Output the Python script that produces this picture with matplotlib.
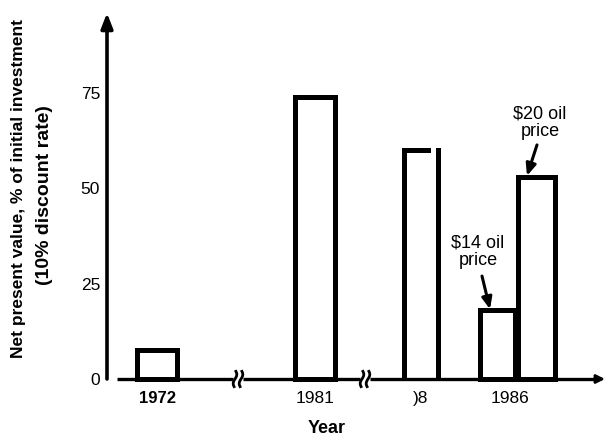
import numpy as np
import matplotlib
matplotlib.use("Agg")
import matplotlib.pyplot as plt

plt.rcParams["font.family"] = ["Liberation Sans", "DejaVu Sans"]

# data
YEAR_LABELS = ["1972", "1981", ")8", "1986"]
NPV = [7.5, 74, 60, 18, 53]          # % of initial investment
OIL_LABELS = ["$14 oil\nprice", "$20 oil\nprice"]

# layout (x in units of 10 px from the y axis)
BAR_X = [5.0, 20.8, 31.4, 39.05, 42.95]
BAR_W = [4.0, 4.0, 3.4, 3.5, 3.7]
LABEL_X = [5.0, 20.8, 31.4, 40.3]
BREAKS_X = [13.0, 25.7]
XMAX = 49.8
YMAX = 96

fig = plt.figure(figsize=(6.06, 4.36), dpi=100)
ax = fig.add_axes([107 / 606, 57 / 436, 498 / 606, 366 / 436])
ax.set_xlim(0, XMAX)
ax.set_ylim(0, YMAX)
for s in ax.spines.values():
    s.set_visible(False)
ax.set_xticks([])
ax.set_yticks([0, 25, 50, 75])
ax.tick_params(axis="y", length=0, pad=5, labelsize=12.5)
ax.patch.set_alpha(0)

# bars (white with heavy outline); the ")8" bar has a broken top
lw = 3.6
for i, (x, w, h) in enumerate(zip(BAR_X, BAR_W, NPV)):
    if i == 2:
        ax.bar(x, h, width=w, facecolor="white", edgecolor="none", zorder=3)
        ax.plot([x - w / 2, x - w / 2, x + w / 2 - 1.0], [0, h, h],
                color="black", lw=lw, zorder=4, solid_joinstyle="miter")
        ax.plot([x + w / 2, x + w / 2], [0, h], color="black", lw=lw, zorder=4)
    else:
        ax.bar(x, h, width=w, bottom=0, facecolor="white",
               edgecolor="black", linewidth=lw, zorder=3, clip_on=False)

# y axis with arrow
ax.annotate("", xy=(0, YMAX), xytext=(0, 0), xycoords="data",
            arrowprops=dict(arrowstyle="-|>,head_width=0.35,head_length=0.9",
                            color="black", lw=2.6, shrinkA=0, shrinkB=0),
            annotation_clip=False)

# x axis with breaks and arrow
segs = [(1.0, BREAKS_X[0] - 0.4), (BREAKS_X[0] + 0.6, BREAKS_X[1] - 0.4),
        (BREAKS_X[1] + 0.6, XMAX - 0.6)]
for a, b in segs:
    ax.plot([a, b], [0, 0], color="black", lw=2.4, zorder=4,
            solid_capstyle="butt", clip_on=False)
ax.annotate("", xy=(XMAX, 0), xytext=(XMAX - 1.0, 0),
            arrowprops=dict(arrowstyle="-|>,head_width=0.25,head_length=0.5",
                            color="black", lw=2.0, shrinkA=0, shrinkB=0),
            annotation_clip=False)
t = np.linspace(-1, 1, 20)
for bx in BREAKS_X:
    for dx in (-0.2, 0.4):
        ax.plot(bx + dx + 0.18 * np.sin(t * np.pi / 1.2), t * 2.0,
                color="black", lw=2.0, zorder=5, clip_on=False)

# year labels
for i, (lx, lab) in enumerate(zip(LABEL_X, YEAR_LABELS)):
    ax.text(lx, -5.0, lab, ha="center", va="center",
            fontsize=12 if i == 0 else 12.5,
            fontweight="bold" if i == 0 else "normal")
ax.text(22.0, -12.9, "Year", ha="center", va="center", fontsize=13,
        fontweight="bold")

# y label
fig.text(19 / 606, 1 - 188 / 436, "Net present value, % of initial investment",
         rotation=90, ha="center", va="center", fontsize=12.5, fontweight="bold")
fig.text(45 / 606, 1 - 195 / 436, "(10% discount rate)",
         rotation=90, ha="center", va="center", fontsize=14, fontweight="bold")

# oil price annotations
arrow = dict(arrowstyle="-|>,head_width=0.3,head_length=0.7",
             color="black", lw=2.2, shrinkA=0, shrinkB=0)
ax.text(37.1, 33.3, OIL_LABELS[0].replace("$", r"\$"), ha="center",
        va="center", fontsize=13, linespacing=1.05)
ax.annotate("", xy=(38.3, NPV[3] + 0.3), xytext=(37.5, 27.0), arrowprops=arrow)
ax.text(43.3, 67.2, OIL_LABELS[1].replace("$", r"\$"), ha="center",
        va="center", fontsize=13, linespacing=1.05)
ax.annotate("", xy=(42.0, NPV[4] + 0.3), xytext=(43.0, 61.4), arrowprops=arrow)

fig.savefig("out.png", dpi=100)
